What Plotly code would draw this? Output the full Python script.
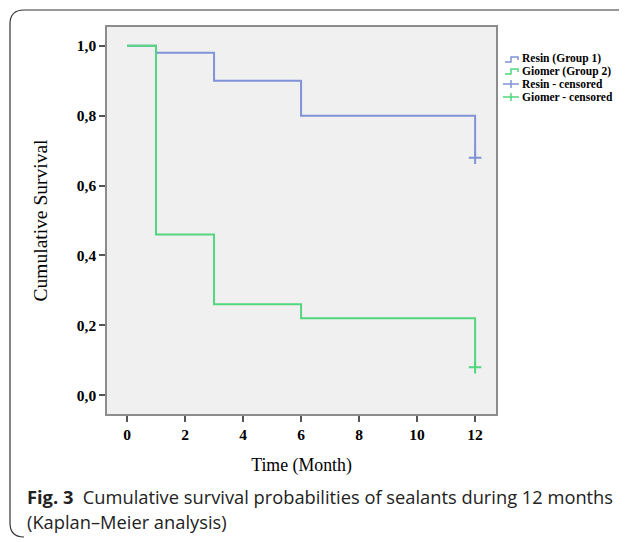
import plotly.graph_objects as go

# Data
resin_time = [0, 1, 3, 6, 12]
resin_surv = [1.0, 0.98, 0.90, 0.80, 0.68]
giomer_time = [0, 1, 3, 6, 12]
giomer_surv = [1.0, 0.46, 0.26, 0.22, 0.08]
resin_cens_time = [12]
resin_cens_surv = [0.68]
giomer_cens_time = [12]
giomer_cens_surv = [0.08]
x_ticks = [0, 2, 4, 6, 8, 10, 12]
y_ticks = [0.0, 0.2, 0.4, 0.6, 0.8, 1.0]
y_tick_labels = ["0,0", "0,2", "0,4", "0,6", "0,8", "1,0"]
legend_names = ["Resin (Group 1)", "Giomer (Group 2)", "Resin - censored", "Giomer - censored"]

BLUE = "#7f93d6"
GREEN = "#52d67e"
SERIF = "Liberation Serif"

OFF = 8  # body margin of the page
W, H = 627 - OFF, 542 - OFF
L, R, T, B = 107 - OFF, 496 - OFF, 27 - OFF, 414 - OFF
pw, ph = R - L, B - T


def px(x):
    return (x - OFF - L) / pw


def py(y):
    return (B - (y - OFF)) / ph


fig = go.Figure()
fig.add_trace(go.Scatter(x=resin_time, y=resin_surv, mode="lines", line_shape="hv",
                         line=dict(color=BLUE, width=2), name=legend_names[0]))
fig.add_trace(go.Scatter(x=giomer_time, y=giomer_surv, mode="lines", line_shape="hv",
                         line=dict(color=GREEN, width=2), name=legend_names[1]))
fig.add_trace(go.Scatter(x=resin_cens_time, y=resin_cens_surv, mode="markers",
                         marker=dict(symbol="cross-thin", size=9, line=dict(color=BLUE, width=2)),
                         name=legend_names[2]))
fig.add_trace(go.Scatter(x=giomer_cens_time, y=giomer_cens_surv, mode="markers",
                         marker=dict(symbol="cross-thin", size=9, line=dict(color=GREEN, width=2)),
                         name=legend_names[3]))

# Outer rounded box
x0, x1, y0, y1, r = 10, 660, 10, 537, 14
path = (f"M {px(x0 + r)},{py(y0)} L {px(x1)},{py(y0)} "
        f"M {px(x0 + r)},{py(y0)} Q {px(x0)},{py(y0)} {px(x0)},{py(y0 + r)} "
        f"L {px(x0)},{py(y1 - r)} Q {px(x0)},{py(y1)} {px(x0 + r)},{py(y1)}")
fig.add_shape(type="path", path=path, xref="paper", yref="paper",
              line=dict(color="#333333", width=1.2), layer="below")

# Custom compact legend
leg_y = [59, 71, 84, 97]
leg_col = [BLUE, GREEN, BLUE, GREEN]
for i, (name, yy, c) in enumerate(zip(legend_names, leg_y, leg_col)):
    if i < 2:
        p = (f"M {px(505)},{py(yy + 3)} L {px(511)},{py(yy + 3)} L {px(511)},{py(yy - 2)} "
             f"L {px(518)},{py(yy - 2)} L {px(518)},{py(yy + 1)}")
        fig.add_shape(type="path", path=p, xref="paper", yref="paper", line=dict(color=c, width=1.5))
    else:
        fig.add_shape(type="line", x0=px(503), x1=px(519), y0=py(yy), y1=py(yy),
                      xref="paper", yref="paper", line=dict(color=c, width=1.5))
        fig.add_shape(type="line", x0=px(511), x1=px(511), y0=py(yy - 4), y1=py(yy + 4),
                      xref="paper", yref="paper", line=dict(color=c, width=1.5))
    fig.add_annotation(x=px(520), y=py(yy), xref="paper", yref="paper", xanchor="left", yanchor="middle",
                       text=f"<b>{name}</b>", showarrow=False,
                       font=dict(family=SERIF, size=11.5, color="black"))

fig.add_annotation(x=px(25), y=py(496), xref="paper", yref="paper", xanchor="left", yanchor="middle",
                   text="<b>Fig. 3</b>  Cumulative survival probabilities of sealants during 12 months",
                   showarrow=False, font=dict(family="Open Sans", size=18.3, color="#222222"))
fig.add_annotation(x=px(25), y=py(521), xref="paper", yref="paper", xanchor="left", yanchor="middle",
                   text="(Kaplan–Meier analysis)",
                   showarrow=False, font=dict(family="Open Sans", size=18.3, color="#222222"))

fig.update_layout(
    width=W, height=H,
    margin=dict(l=L, r=W - R, t=T, b=H - B, autoexpand=False),
    paper_bgcolor="white", plot_bgcolor="#f0f0f0",
    showlegend=False,
    font=dict(family=SERIF, color="black"),
)
fig.update_xaxes(range=[-0.69, 12.72], tickvals=x_ticks, ticks="outside", ticklen=6, tickwidth=1.5,
                 tickcolor="#555555", showgrid=False, zeroline=False,
                 showline=True, mirror=True, linecolor="#8c8c8c", linewidth=1.5,
                 tickfont=dict(family=SERIF, size=15.5, weight="bold"),
                 title=dict(text="Time (Month)", font=dict(family=SERIF, size=17.8), standoff=16))
fig.update_yaxes(range=[-0.054, 1.054], tickvals=y_ticks, ticktext=y_tick_labels, ticks="outside",
                 ticklen=6, tickwidth=1.5, tickcolor="#555555", showgrid=False, zeroline=False,
                 showline=True, mirror=True, linecolor="#8c8c8c", linewidth=1.5,
                 tickfont=dict(family=SERIF, size=15.5, weight="bold"),
                 title=dict(text="Cumulative Survival", font=dict(family=SERIF, size=19.5), standoff=24))

fig.write_html("out.html")
